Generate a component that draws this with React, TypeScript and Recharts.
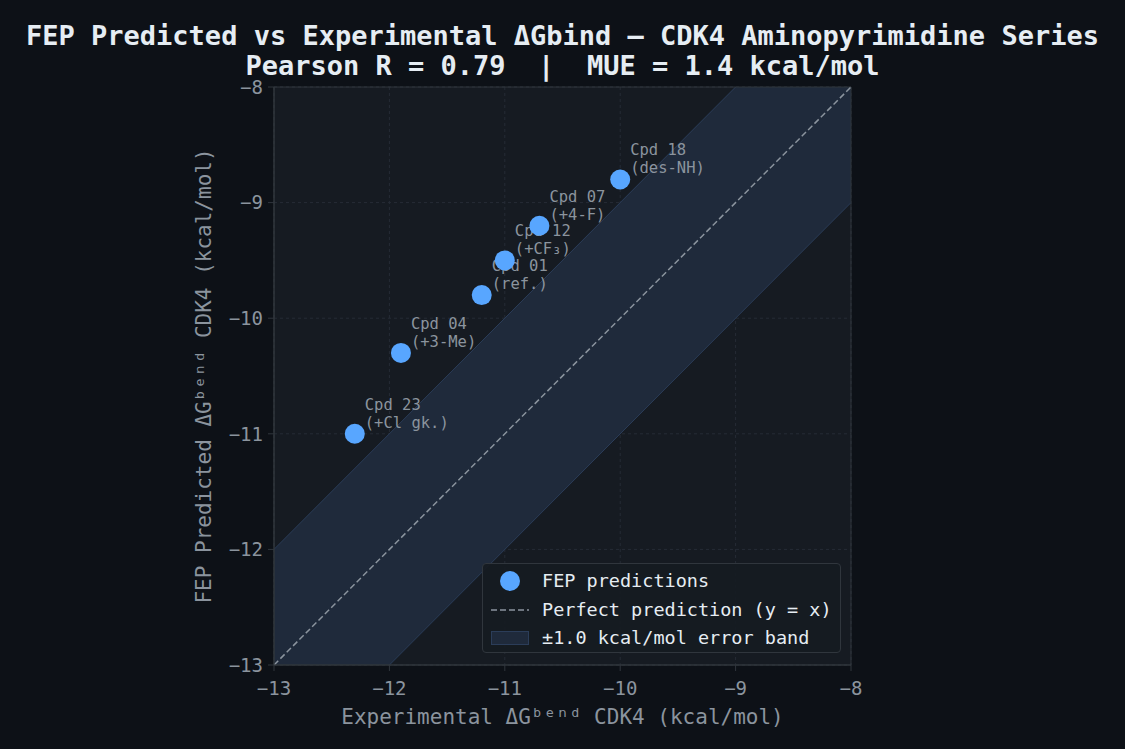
import {
  ComposedChart,
  Scatter,
  Line,
  Area,
  XAxis,
  YAxis,
  CartesianGrid,
  ReferenceArea,
  Label,
} from 'recharts';

// compounds in the CDK4 aminopyrimidine series
const compounds = ['Cpd 18', 'Cpd 07', 'Cpd 12', 'Cpd 01', 'Cpd 04', 'Cpd 23'];
const modifications = ['(des-NH)', '(+4-F)', '(+CF₃)', '(ref.)', '(+3-Me)', '(+Cl gk.)'];
const experimental = [-10.0, -10.7, -11.0, -11.2, -11.9, -12.3];
const predicted = [-8.8, -9.2, -9.5, -9.8, -10.3, -11.0];

const axisTicks = [-13, -12, -11, -10, -9, -8];
const identityX = [-13, -8];
const errorBand = 1.0;

const MONO = '"DejaVu Sans Mono", monospace';
const BG = '#0d1117';
const PANEL = '#161b22';
const GRID = '#262c36';
const MUTED = '#8b949e';
const TEXT = '#e6edf3';
const BLUE = '#58a6ff';
const BAND = '#1f2a3b';
const BAND_EDGE = '#2b3d59';

const points = compounds.map((name, i) => ({
  name,
  mod: modifications[i],
  x: experimental[i],
  y: predicted[i],
}));

const identity = identityX.map(v => ({ x: v, y: v }));
const band = identityX.map(v => ({ x: v, band: [v - errorBand, v + errorBand] }));

const fmt = (v: number) => String(v).replace('-', '\u2212');

const PointLabel = (props: any) => {
  const { cx, cy, payload } = props;
  return (
    <g>
      <text x={cx + 10} y={cy - 24} fill={MUTED} fontSize={15.5} fontFamily={MONO}>
        {payload.name}
      </text>
      <text x={cx + 10} y={cy - 6} fill={MUTED} fontSize={15.5} fontFamily={MONO}>
        {payload.mod}
      </text>
    </g>
  );
};

const Dot = (props: any) => <circle cx={props.cx} cy={props.cy} r={10} fill={BLUE} />;

const legendRows = [
  { key: 'dot', label: 'FEP predictions' },
  { key: 'line', label: 'Perfect prediction (y = x)' },
  { key: 'band', label: '\u00b11.0 kcal/mol error band' },
];

const ChartLegend = () => (
  <div
    style={{
      position: 'absolute',
      left: 482,
      top: 563,
      width: 359,
      height: 90,
      boxSizing: 'border-box',
      border: '1px solid #30363d',
      borderRadius: 4,
      background: 'rgba(22,27,34,0.92)',
      fontFamily: MONO,
      fontSize: 18.5,
      color: TEXT,
    }}
  >
    {legendRows.map((r, i) => (
      <div
        key={r.key}
        style={{ position: 'absolute', left: 0, top: 17 + i * 28.5 - 14, height: 28, width: '100%' }}
      >
        <svg width={50} height={28} style={{ position: 'absolute', left: 6, top: 0 }}>
          {r.key === 'dot' && <circle cx={21} cy={14} r={10} fill={BLUE} />}
          {r.key === 'line' && (
            <line x1={2} x2={40} y1={14} y2={14} stroke={MUTED} strokeWidth={1.5} strokeDasharray="6 3" />
          )}
          {r.key === 'band' && (
            <rect x={2.5} y={7.5} width={37} height={13} fill={BAND} stroke={BAND_EDGE} />
          )}
        </svg>
        <span style={{ position: 'absolute', left: 59, top: 0, lineHeight: '28px', whiteSpace: 'pre' }}>
          {r.label}
        </span>
      </div>
    ))}
  </div>
);

const App = () => {
  return (
    <div style={{ position: 'absolute', left: 0, top: 0, width: 1125, height: 749, background: BG }}>
      <div
        style={{
          position: 'absolute',
          left: 0,
          top: 21,
          width: 1125,
          textAlign: 'center',
          fontFamily: MONO,
          fontWeight: 'bold',
          fontSize: 27,
          lineHeight: '30px',
          color: TEXT,
          whiteSpace: 'pre',
        }}
      >
        <div>FEP Predicted vs Experimental ΔGbind — CDK4 Aminopyrimidine Series</div>
        <div>Pearson R = 0.79  |  MUE = 1.4 kcal/mol</div>
      </div>
      <div style={{ position: 'absolute', left: 0, top: 0 }}>
        <ComposedChart width={1125} height={749} margin={{ top: 87, right: 274, bottom: 24, left: 194 }}>
          <CartesianGrid stroke={GRID} strokeDasharray="3 3" fill={PANEL} />
          <XAxis
            dataKey="x"
            type="number"
            domain={[-13, -8]}
            ticks={axisTicks}
            allowDataOverflow
            height={60}
            tickFormatter={fmt}
            tick={{ fill: MUTED, fontSize: 19, fontFamily: MONO }}
            tickSize={6}
            tickMargin={11}
            stroke="#30363d"
          >
            <Label
              value="Experimental ΔGᵇᵉⁿᵈ CDK4 (kcal/mol)"
              position="insideBottom"
              offset={1}
              fill={MUTED}
              fontSize={21}
              fontFamily={MONO}
            />
          </XAxis>
          <YAxis
            dataKey="y"
            type="number"
            domain={[-13, -8]}
            ticks={axisTicks}
            allowDataOverflow
            width={80}
            tickFormatter={fmt}
            tick={{ fill: MUTED, fontSize: 19, fontFamily: MONO }}
            tickSize={6}
            tickMargin={5}
            stroke="#30363d"
          >
            <Label
              value="FEP Predicted ΔGᵇᵉⁿᵈ CDK4 (kcal/mol)"
              angle={-90}
              position="insideLeft"
              offset={10}
              fill={MUTED}
              fontSize={21}
              fontFamily={MONO}
              style={{ textAnchor: 'middle' }}
            />
          </YAxis>
          <Area
            data={band}
            dataKey="band"
            type="linear"
            fill={BAND}
            fillOpacity={1}
            stroke={BAND_EDGE}
            strokeWidth={1}
            isAnimationActive={false}
          />
          <Line
            data={identity}
            dataKey="y"
            type="linear"
            stroke={MUTED}
            strokeWidth={1.5}
            strokeDasharray="6 3"
            dot={false}
            isAnimationActive={false}
          />
          <Scatter data={points} dataKey="y" shape={PointLabel} isAnimationActive={false} />
          <Scatter data={points} dataKey="y" shape={Dot} isAnimationActive={false} />
          <ReferenceArea x1={-13} x2={-8} y1={-13} y2={-8} fill="none" stroke="#30363d" />
        </ComposedChart>
      </div>
      <ChartLegend />
    </div>
  );
};

export default App;
